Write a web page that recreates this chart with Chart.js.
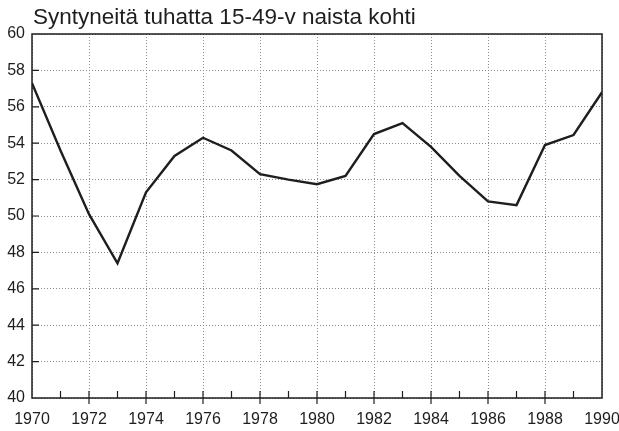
<!DOCTYPE html>
<html>
<head>
<meta charset="utf-8">
<script src="https://cdn.jsdelivr.net/npm/chart.js@4"></script>
<style>
  html, body { margin: 0; padding: 0; background: #fff; }
  .wrap { position: relative; width: 619px; height: 431px; }
  .title {
    position: absolute; left: 33px; top: 6px;
    font: 22.5px/22px 'Liberation Sans', Arial, sans-serif;
    color: #1e1e1e; white-space: nowrap;
  }
</style>
</head>
<body>
<div class="wrap">
  <canvas id="myChart" width="619" height="431"></canvas>
  <div class="title" id="title"></div>
</div>
<script>
const title = "Syntyneitä tuhatta 15-49-v naista kohti";
const years = [1970, 1971, 1972, 1973, 1974, 1975, 1976, 1977, 1978, 1979, 1980,
  1981, 1982, 1983, 1984, 1985, 1986, 1987, 1988, 1989, 1990];
const births = [57.3, 53.6, 50.1, 47.4, 51.3, 53.3, 54.3, 53.6, 52.3, 52.0, 51.75,
  52.2, 54.5, 55.1, 53.8, 52.2, 50.8, 50.6, 53.9, 54.45, 56.8];

const ink = "#1e1e1e";
const font = "'Liberation Sans', Arial, sans-serif";

document.getElementById("title").textContent = title;

// frame around the plot + short inward ticks
const frame = {
  id: "frame",
  afterDraw(chart) {
    const { ctx, chartArea: a, scales } = chart;
    ctx.save();
    ctx.strokeStyle = ink;
    ctx.lineWidth = 1.5;
    ctx.strokeRect(a.left, a.top, a.right - a.left, a.bottom - a.top);
    ctx.lineWidth = 1.2;
    ctx.beginPath();
    years.forEach((yr) => {
      if (yr === 1970 || yr === 1990) return;
      const x = scales.x.getPixelForValue(yr);
      const major = yr % 2 === 0;
      ctx.moveTo(x, a.bottom + (major ? 6 : 0));
      ctx.lineTo(x, a.bottom - 7);
    });
    for (let v = 42; v < 60; v += 2) {
      const y = scales.y.getPixelForValue(v);
      ctx.moveTo(a.left, y);
      ctx.lineTo(a.left + 7, y);
    }
    ctx.stroke();
    ctx.restore();
  },
};

const ctx = document.getElementById("myChart").getContext("2d");
new Chart(ctx, {
  type: "line",
  data: {
    datasets: [
      {
        data: years.map((yr, i) => ({ x: yr, y: births[i] })),
        borderColor: ink,
        borderWidth: 2.4,
        pointRadius: 0,
        tension: 0,
        fill: false,
      },
    ],
  },
  options: {
    responsive: false,
    animation: false,
    layout: { padding: { left: 7, right: 17, top: 34, bottom: 0 } },
    plugins: {
      legend: { display: false },
      tooltip: { enabled: false },
    },
    scales: {
      x: {
        type: "linear",
        min: 1970,
        max: 1990,
        afterFit: (s) => {
          s.height = 33;
          s.paddingLeft = 0;
          s.paddingRight = 0;
        },
        ticks: {
          stepSize: 2,
          color: ink,
          font: { family: font, size: 16 },
          padding: 12,
          maxRotation: 0,
          callback: (v) => String(v),
        },
        grid: {
          color: "#8a8a8a",
          lineWidth: 1,
          drawTicks: false,
        },
        border: { display: false, dash: [1, 2] },
      },
      y: {
        min: 40,
        max: 60,
        afterFit: (s) => {
          s.width = 25;
          s.paddingTop = 0;
          s.paddingBottom = 0;
        },
        ticks: {
          stepSize: 2,
          color: ink,
          font: { family: font, size: 16 },
          padding: 7,
        },
        grid: {
          color: "#8a8a8a",
          lineWidth: 1,
          drawTicks: false,
        },
        border: { display: false, dash: [1, 2] },
      },
    },
  },
  plugins: [frame],
});
</script>
</body>
</html>
